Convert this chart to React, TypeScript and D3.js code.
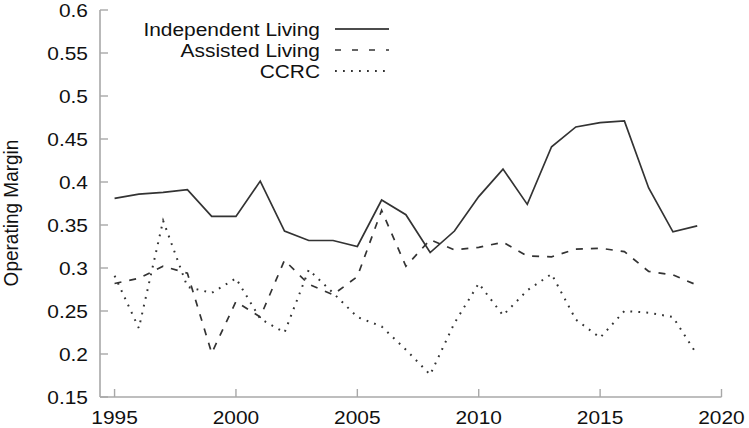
import React from "react";
import * as d3 from "d3";

const years = [1995,1996,1997,1998,1999,2000,2001,2002,2003,2004,2005,2006,2007,2008,2009,2010,2011,2012,2013,2014,2015,2016,2017,2018,2019];
const independentLiving = [0.381,0.386,0.388,0.391,0.360,0.360,0.401,0.343,0.332,0.332,0.325,0.379,0.362,0.318,0.343,0.383,0.415,0.374,0.441,0.464,0.469,0.471,0.393,0.342,0.349];
const assistedLiving = [0.282,0.288,0.302,0.294,0.201,0.261,0.243,0.309,0.281,0.269,0.290,0.367,0.302,0.333,0.321,0.324,0.330,0.314,0.313,0.322,0.323,0.319,0.296,0.292,0.280];
const ccrc = [0.291,0.230,0.355,0.278,0.271,0.288,0.241,0.225,0.298,0.271,0.243,0.232,0.205,0.176,0.236,0.282,0.245,0.274,0.293,0.240,0.219,0.250,0.248,0.243,0.199];
const yTicks = [0.15,0.2,0.25,0.3,0.35,0.4,0.45,0.5,0.55,0.6];
const yTickLabels = ["0.15","0.2","0.25","0.3","0.35","0.4","0.45","0.5","0.55","0.6"];
const xTicks = [1995,2000,2005,2010,2015,2020];
const seriesNames = ["Independent Living","Assisted Living","CCRC"];

export default function App() {
  const W = 749, H = 428;
  const x = d3.scaleLinear().domain([1994.4, 2020]).range([100, 721.5]);
  const y = d3.scaleLinear().domain([0.15, 0.6]).range([397, 10]);
  const axisColor = "#a8a8a8";
  const lineColor = "#333";
  const font = "'Liberation Sans', Arial, Helvetica, sans-serif";
  const series = [independentLiving, assistedLiving, ccrc];
  const dashes = [undefined, "7,8", "1.8,6.2"];
  const line = (vals: number[]) =>
    d3.line<number>().x((_, i) => x(years[i])).y((v) => y(v))(vals) || "";
  const legendY = [29, 50, 71];
  const sx = 1.1;
  return (
    <svg width={W} height={H} style={{ position: "absolute", left: 0, top: 0, background: "#fff" }}>
      {/* axes */}
      <line x1={100} x2={100} y1={y(0.6)} y2={y(0.15)} stroke={axisColor} strokeWidth={1.6} />
      <line x1={100} x2={x(2020)} y1={y(0.15)} y2={y(0.15)} stroke={axisColor} strokeWidth={1.6} />
      {yTicks.map((t, i) => (
        <g key={"y" + i}>
          <line x1={100} x2={108} y1={y(t)} y2={y(t)} stroke={axisColor} strokeWidth={1.4} />
          <text transform={`translate(88,${y(t)}) scale(${sx},1)`} dy="0.36em" textAnchor="end" fontFamily={font} fontSize={19} fill="#111">
            {yTickLabels[i]}
          </text>
        </g>
      ))}
      {xTicks.map((t) => (
        <g key={"x" + t}>
          <line x1={x(t)} x2={x(t)} y1={397} y2={389} stroke={axisColor} strokeWidth={1.4} />
          <text transform={`translate(${x(t)},424) scale(${sx},1)`} textAnchor="middle" fontFamily={font} fontSize={19} fill="#111">
            {t}
          </text>
        </g>
      ))}
      <text
        transform={`translate(18,213) rotate(-90) scale(1,${sx})`}
        textAnchor="middle"
        fontFamily={font}
        fontSize={19}
        fill="#111"
      >
        Operating Margin
      </text>
      {/* lines */}
      {series.map((s, i) => (
        <path key={"s" + i} d={line(s)} fill="none" stroke={lineColor} strokeWidth={i === 2 ? 2 : 1.7} strokeDasharray={dashes[i]} />
      ))}
      {/* legend */}
      {seriesNames.map((n, i) => (
        <g key={"l" + i}>
          <text transform={`translate(320,${legendY[i]}) scale(${sx},1)`} dy="0.36em" textAnchor="end" fontFamily={font} fontSize={19} fill="#111">
            {n}
          </text>
          <line x1={335} x2={389} y1={legendY[i]} y2={legendY[i]} stroke={i === 0 ? "#111" : lineColor} strokeWidth={i === 2 ? 2 : 1.7} strokeDasharray={i === 1 ? "6,11" : dashes[i]} />
        </g>
      ))}
    </svg>
  );
}
